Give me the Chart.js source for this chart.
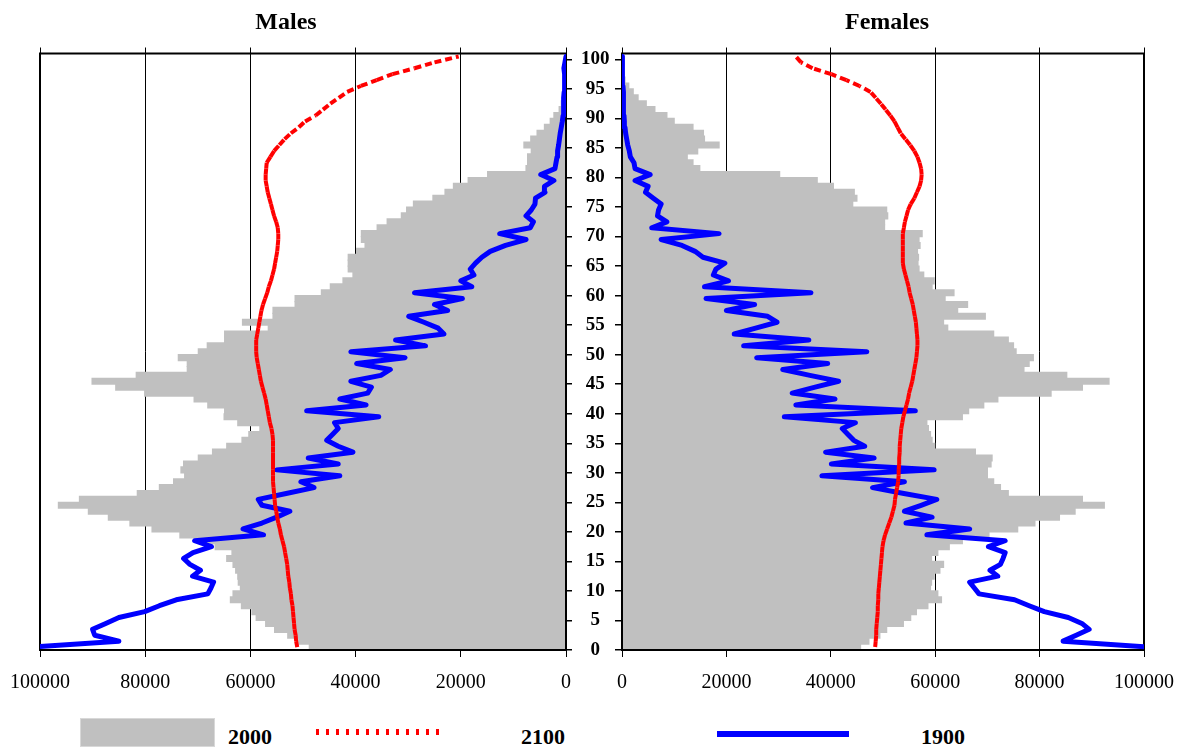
<!DOCTYPE html>
<html>
<head>
<meta charset="utf-8">
<script src="https://cdn.jsdelivr.net/npm/chart.js@4/dist/chart.umd.min.js"></script>
<style>
  body { margin: 0; background: #fff; }
  #wrap { position: relative; width: 1188px; height: 747px; overflow: hidden; font-family: "Liberation Serif", "Times New Roman", serif; color: #000; }
  canvas { position: absolute; top: 0; }
  #males { left: 0; }
  #females { left: 600px; }
  .title { position: absolute; top: 9px; font-weight: bold; font-size: 24px; line-height: 24px; transform: translateX(-50%); white-space: nowrap; }
  .lg-text { position: absolute; top: 726px; font-weight: bold; font-size: 22px; line-height: 22px; }
  #lg2000 { position: absolute; left: 80px; top: 718px; width: 135px; height: 29px; box-sizing: border-box; background: #c0c0c0; border: 1px solid #d8d8d8; }
  #lg2100 { position: absolute; left: 316px; top: 729px; width: 130px; height: 6px; background: repeating-linear-gradient(90deg, #ff0000 0 3px, transparent 3px 10px); }
  #lg1900 { position: absolute; left: 717px; top: 731px; width: 132px; height: 6px; background: #0000ff; }
</style>
</head>
<body>
<div id="wrap">
  <canvas id="males" width="622" height="714"></canvas>
  <canvas id="females" width="588" height="714"></canvas>
  <div class="title" style="left:286px">Males</div>
  <div class="title" style="left:887px">Females</div>
  <div id="lg2000"></div><div class="lg-text" style="left:228px">2000</div>
  <div id="lg2100"></div><div class="lg-text" style="left:521px">2100</div>
  <div id="lg1900"></div><div class="lg-text" style="left:921px">1900</div>
</div>
<script>
  // ages 0..100, one category per year
  const ages = Array.from({ length: 101 }, (_, i) => String(i));
  const ageTicks = [0, 5, 10, 15, 20, 25, 30, 35, 40, 45, 50, 55, 60, 65, 70, 75, 80, 85, 90, 95, 100];
  const valueTicks = [0, 20000, 40000, 60000, 80000, 100000];

  const males2000 = [
    48800, 50800, 52900, 55400, 57100, 58900, 59700, 61700, 63800, 63300,
    61900, 62300, 62400, 62800, 63300, 64500, 63500, 66700, 68400, 73400,
    78700, 82900, 87000, 90800, 96500, 92500, 81500, 77300, 74600, 72500,
    73200, 72700, 69900, 67200, 64500, 61600, 60300, 58200, 62400, 65000,
    64900, 68100, 70700, 80100, 85600, 90100, 81700, 72000, 72000, 73700,
    69900, 68200, 64900, 64900, 56600, 61500, 55700, 55700, 51500, 51500,
    46500, 44800, 42400, 40500, 41400, 41400, 41400, 39800, 38200, 38900,
    38900, 35900, 34000, 31300, 30300, 29000, 25300, 23000, 21400, 18600,
    14900, 7600, 7300, 7300, 6600, 8000, 6700, 5500, 4100, 3000,
    2300, 1300, 900, 600, 450, 350, 250, 150, 100, 60, 30
  ];
  const males2100 = [
    51100, 51300, 51400, 51600, 51700, 51800, 51900, 52000, 52200, 52300,
    52500, 52600, 52800, 52900, 53000, 53200, 53400, 53600, 53900, 54200,
    54400, 54700, 54900, 55100, 55300, 55400, 55500, 55600, 55700, 55700,
    55700, 55700, 55700, 55700, 55700, 55700, 55800, 56000, 56300, 56500,
    56700, 56900, 57100, 57400, 57700, 58000, 58200, 58400, 58600, 58800,
    58900, 58900, 58900, 58700, 58500, 58300, 58100, 57900, 57600, 57200,
    56800, 56500, 56100, 55800, 55500, 55300, 55100, 54900, 54800, 54700,
    54700, 54800, 55100, 55500, 55800, 56100, 56400, 56700, 56900, 57100,
    57100, 57000, 56900, 56200, 55500, 54500, 53500, 52300, 50800, 49600,
    47600, 46200, 44800, 43200, 41600, 39000, 36000, 33000, 28800, 25000, 20400
  ];
  const males1900 = [
    101500, 85000, 89600, 90000, 87500, 85000, 80100, 77300, 74100, 68100,
    67500, 67000, 71000, 69500, 71500, 72700, 70900, 67400, 70600, 57500,
    61400, 57800, 55000, 52500, 57800, 58500, 53200, 47900, 50400, 43000,
    55000, 43300, 49000, 40500, 43300, 45500, 44400, 43300, 44000, 35600,
    49300, 38000, 43000, 37700, 37000, 40900, 35200, 33400, 39800, 30600,
    40900, 26700, 32400, 23200, 24300, 27000, 29900, 22500, 25000, 19700,
    28800, 17900, 20000, 17500, 18200, 17200, 16000, 14400, 11500, 7600,
    12600, 6800, 6200, 7600, 6600, 5900, 5800, 4000, 4100, 2300,
    4800, 2100, 1900, 1700, 1600, 1400, 1250, 1100, 900, 700,
    550, 500, 450, 400, 350, 300, 250, 250, 400, 200, 0
  ];

  const females2000 = [
    45700, 47300, 49400, 50700, 53900, 55300, 56400, 58600, 61200, 60500,
    59100, 59300, 59800, 60900, 61600, 59300, 60500, 62700, 65200, 70300,
    75800, 79100, 83800, 86800, 92400, 88200, 74000, 72500, 71200, 70000,
    70000, 70700, 70900, 67700, 59900, 59400, 59100, 58700, 58400, 65200,
    66400, 69300, 72000, 82200, 88200, 93300, 85200, 77000, 78000, 78800,
    75500, 75000, 74000, 71200, 62400, 61600, 69600, 64300, 66200, 61900,
    63600, 59400, 59800, 57800, 56900, 56700, 56800, 56600, 57100, 56900,
    57500, 50300, 50300, 50900, 50700, 44200, 45000, 44500, 40500, 37400,
    30200, 14900, 13600, 12500, 14500, 18600, 15800, 15600, 13600, 10000,
    8600, 6300, 4650, 3080, 2150, 1290, 570, 300, 200, 100, 50
  ];
  const females2100 = [
    48500, 48600, 48700, 48700, 48800, 48900, 49000, 49000, 49100, 49100,
    49200, 49300, 49400, 49500, 49600, 49700, 49800, 49900, 50100, 50400,
    50800, 51200, 51600, 51900, 52200, 52300, 52500, 52700, 52900, 53000,
    53000, 53100, 53100, 53200, 53200, 53300, 53400, 53500, 53700, 53900,
    54200, 54500, 54800, 55000, 55300, 55600, 55800, 56000, 56200, 56400,
    56500, 56600, 56600, 56500, 56400, 56300, 56100, 55900, 55700, 55400,
    55100, 54900, 54600, 54300, 54000, 53800, 53800, 53800, 53800, 53800,
    53800, 54000, 54200, 54500, 54800, 55300, 56000, 56500, 57000, 57300,
    57400, 57300, 57000, 56600, 56000, 55200, 54300, 53400, 52800, 52200,
    51400, 50500, 49600, 48600, 47600, 45500, 43000, 40100, 36500, 34300, 33300
  ];
  const females1900 = [
    101000, 84500, 87000, 89500, 88100, 85500, 80900, 78000, 75200, 68400,
    67500, 66600, 72000, 70500, 72500, 73000, 73400, 70200, 73400, 58400,
    66600, 54400, 59400, 54100, 57300, 60300, 54000, 48000, 54100, 38300,
    59800, 40100, 48300, 39000, 46500, 44400, 43300, 42200, 44700, 31100,
    56200, 33300, 40800, 32600, 37000, 41500, 36000, 30800, 39400, 25800,
    46900, 23300, 35800, 21500, 25600, 29700, 27900, 20000, 25400, 16100,
    36200, 15800, 20400, 17500, 18000, 19700, 15500, 14000, 11500, 7500,
    18600, 5700, 8600, 6800, 7000, 7500, 6000, 4500, 5000, 2500,
    5400, 2500, 2300, 1600, 1400, 1100, 900, 700, 570, 450,
    380, 350, 300, 250, 200, 180, 150, 120, 80, 50, 0
  ];

  const FONT = '"Liberation Serif", "Times New Roman", serif';

  // plot frame, drawn right after the grey bars so the lines stay on top
  const framePlugin = {
    id: 'frame',
    afterDatasetDraw(chart, args) {
      if (args.index !== 0) return;
      const { ctx, chartArea: a } = chart;
      ctx.save();
      ctx.strokeStyle = '#000';
      ctx.lineWidth = 2;
      ctx.strokeRect(a.left, a.top, a.right - a.left, a.bottom - a.top);
      ctx.restore();
    }
  };

  function setTicks(list) {
    return function (scale) {
      scale.ticks = list.map(v => ({ value: v }));
    };
  }

  function buildPyramid(canvasId, isMale, pop2000, pop2100, pop1900) {
    const ctx = document.getElementById(canvasId);
    return new Chart(ctx, {
      type: 'bar',
      data: {
        labels: ages,
        datasets: [
          {
            label: '2000',
            data: pop2000,
            indexAxis: 'y',
            backgroundColor: '#c0c0c0',
            borderWidth: 0,
            barPercentage: 1,
            categoryPercentage: 1,
            inflateAmount: 0.6,
            order: 3
          },
          {
            type: 'line',
            label: '1900',
            data: pop1900,
            indexAxis: 'y',
            borderColor: '#0000ff',
            borderWidth: 5,
            borderJoinStyle: 'round',
            borderCapStyle: 'round',
            pointRadius: 0,
            tension: 0,
            fill: false,
            order: 2
          },
          {
            type: 'line',
            label: '2100',
            data: pop2100,
            indexAxis: 'y',
            borderColor: '#ff0000',
            borderWidth: 4,
            borderDash: [7, 4],
            // restart the dash on every year step, like the original
            segment: { borderDashOffset: c => (c.p0DataIndex % 2 ? 0.01 : 0) },
            pointRadius: 0,
            tension: 0,
            fill: false,
            order: 1
          }
        ]
      },
      options: {
        indexAxis: 'y',
        responsive: false,
        animation: false,
        devicePixelRatio: 1,
        layout: { padding: { top: 47.5, bottom: 5, left: isMale ? 40 : 0, right: isMale ? 0 : 39 } },
        plugins: { legend: { display: false }, tooltip: { enabled: false }, title: { display: false } },
        scales: {
          x: {
            type: 'linear',
            position: 'bottom',
            min: 0,
            max: 100000,
            reverse: isMale,
            afterBuildTicks: setTicks(valueTicks),
            ticks: {
              color: '#000',
              font: { family: FONT, size: 20 },
              padding: 14,
              maxRotation: 0,
              autoSkip: false,
              callback: v => String(v)
            },
            grid: { color: '#000', lineWidth: 1, tickLength: 7, drawOnChartArea: true },
            border: { display: false }
          },
          xTop: {
            type: 'linear',
            position: 'top',
            min: 0,
            max: 100000,
            reverse: isMale,
            afterBuildTicks: setTicks(valueTicks),
            ticks: { display: false },
            grid: { color: '#000', lineWidth: 1, tickLength: 6, drawOnChartArea: false },
            border: { display: false }
          },
          y: {
            type: 'category',
            reverse: true,
            offset: true,
            display: false
          },
          yAge: {
            type: 'linear',
            position: isMale ? 'right' : 'left',
            min: 0,
            max: 101,
            offset: false,
            afterBuildTicks: setTicks(ageTicks),
            afterFit: s => { s.width = isMale ? 56 : 22; },
            ticks: {
              display: isMale,
              color: '#000',
              font: { family: FONT, size: 19, weight: 'bold' },
              padding: 9,
              crossAlign: 'center',
              autoSkip: false
            },
            grid: { color: '#000', lineWidth: 1.5, tickLength: isMale ? 6 : 7, drawOnChartArea: false, offset: false },
            border: { display: false }
          }
        }
      },
      plugins: [framePlugin]
    });
  }

  buildPyramid('males', true, males2000, males2100, males1900);
  buildPyramid('females', false, females2000, females2100, females1900);
</script>
</body>
</html>
